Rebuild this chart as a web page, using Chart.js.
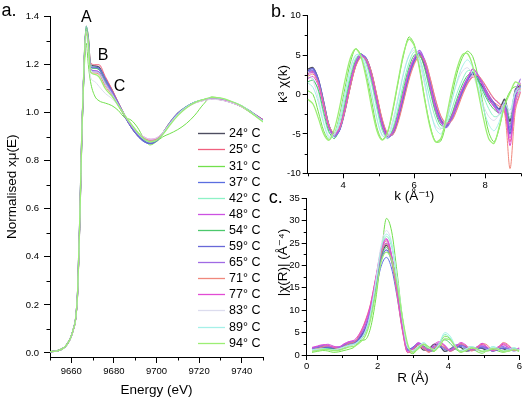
<!DOCTYPE html>
<html>
<head>
<meta charset="utf-8">
<script src="https://cdn.jsdelivr.net/npm/chart.js@4.4.1/dist/chart.umd.min.js"></script>
<style>
  html, body { margin: 0; padding: 0; background: #fff; }
  #wrap { position: relative; width: 524px; height: 400px; overflow: hidden; background: #fff; }
  canvas { position: absolute; }
  #panelA { left: 0; top: 0; }
  #panelB { left: 262px; top: 0; }
  #panelC { left: 262px; top: 190px; }
</style>
</head>
<body>
<div id="wrap">
  <canvas id="panelA" width="272" height="400"></canvas>
  <canvas id="panelB" width="262" height="206"></canvas>
  <canvas id="panelC" width="262" height="210"></canvas>
</div>
<script>
// temperatures of the scans (one line per scan in every panel)
const temps = [24, 25, 31, 37, 42, 48, 54, 59, 65, 71, 77, 83, 89, 94];

// ---- a. XANES, normalised x-mu(E) against energy (eV)
const energy = [9650, 9654, 9657, 9659, 9660, 9661, 9662, 9663, 9664, 9665, 9666, 9667, 9668, 9669, 9671, 9673, 9676, 9679, 9682, 9685, 9688, 9691, 9694, 9697, 9700, 9703, 9706, 9710, 9714, 9718, 9722, 9726, 9730, 9735, 9740, 9745, 9750];
const xanes24 = [0.005, 0.01, 0.025, 0.05, 0.07, 0.1, 0.14, 0.26, 0.56, 0.93, 1.2, 1.36, 1.31, 1.2, 1.195, 1.19, 1.14, 1.095, 1.04, 0.99, 0.945, 0.91, 0.885, 0.875, 0.885, 0.915, 0.955, 0.998, 1.025, 1.043, 1.053, 1.06, 1.057, 1.045, 1.028, 1.0, 0.97];
const xanes25 = [0.005, 0.01, 0.024, 0.048, 0.068, 0.095, 0.135, 0.25, 0.54, 0.92, 1.19, 1.35, 1.31, 1.21, 1.2, 1.2, 1.15, 1.1, 1.045, 0.99, 0.94, 0.905, 0.882, 0.876, 0.888, 0.918, 0.957, 0.998, 1.024, 1.042, 1.052, 1.058, 1.056, 1.044, 1.026, 1.0, 0.972];
const xanes31 = [0.006, 0.012, 0.027, 0.052, 0.072, 0.1, 0.14, 0.26, 0.55, 0.9, 1.16, 1.29, 1.2, 1.13, 1.07, 1.05, 1.04, 1.03, 1.01, 0.98, 0.97, 0.94, 0.895, 0.866, 0.88, 0.9, 0.912, 0.93, 0.955, 0.99, 1.035, 1.066, 1.06, 1.045, 1.024, 0.995, 0.965];
const xanes37 = [0.005, 0.01, 0.025, 0.05, 0.07, 0.1, 0.14, 0.26, 0.56, 0.93, 1.2, 1.35, 1.3, 1.19, 1.185, 1.18, 1.135, 1.09, 1.035, 0.985, 0.94, 0.905, 0.88, 0.872, 0.884, 0.915, 0.955, 0.997, 1.024, 1.043, 1.052, 1.058, 1.055, 1.043, 1.026, 0.998, 0.968];
const xanes42 = [0.005, 0.01, 0.025, 0.05, 0.07, 0.1, 0.14, 0.26, 0.56, 0.93, 1.2, 1.36, 1.31, 1.2, 1.19, 1.185, 1.14, 1.09, 1.04, 0.99, 0.948, 0.912, 0.888, 0.88, 0.89, 0.918, 0.957, 0.998, 1.026, 1.045, 1.055, 1.062, 1.058, 1.046, 1.028, 1.0, 0.962];
const xanes48 = [0.005, 0.01, 0.025, 0.05, 0.07, 0.1, 0.14, 0.26, 0.56, 0.93, 1.2, 1.34, 1.29, 1.18, 1.175, 1.17, 1.12, 1.08, 1.035, 0.99, 0.95, 0.918, 0.895, 0.885, 0.892, 0.915, 0.952, 0.994, 1.022, 1.042, 1.052, 1.058, 1.055, 1.044, 1.026, 0.998, 0.968];
const xanes54 = [0.005, 0.01, 0.025, 0.05, 0.07, 0.1, 0.14, 0.26, 0.56, 0.93, 1.2, 1.35, 1.3, 1.19, 1.185, 1.18, 1.13, 1.085, 1.035, 0.985, 0.942, 0.906, 0.882, 0.873, 0.884, 0.914, 0.954, 0.997, 1.025, 1.044, 1.054, 1.061, 1.058, 1.046, 1.028, 0.999, 0.966];
const xanes59 = [0.005, 0.01, 0.025, 0.05, 0.07, 0.1, 0.14, 0.26, 0.56, 0.93, 1.2, 1.35, 1.3, 1.19, 1.19, 1.185, 1.14, 1.09, 1.04, 0.988, 0.943, 0.907, 0.882, 0.872, 0.883, 0.913, 0.954, 0.997, 1.024, 1.043, 1.053, 1.059, 1.056, 1.044, 1.027, 0.999, 0.969];
const xanes65 = [0.005, 0.01, 0.025, 0.05, 0.07, 0.1, 0.14, 0.26, 0.56, 0.93, 1.2, 1.34, 1.29, 1.18, 1.175, 1.17, 1.125, 1.085, 1.035, 0.988, 0.946, 0.912, 0.89, 0.88, 0.888, 0.915, 0.953, 0.995, 1.023, 1.042, 1.052, 1.058, 1.055, 1.043, 1.026, 0.998, 0.968];
const xanes71 = [0.005, 0.01, 0.025, 0.05, 0.07, 0.1, 0.14, 0.26, 0.56, 0.93, 1.2, 1.33, 1.28, 1.17, 1.165, 1.16, 1.11, 1.075, 1.03, 0.988, 0.95, 0.918, 0.896, 0.886, 0.892, 0.916, 0.952, 0.993, 1.021, 1.041, 1.051, 1.057, 1.054, 1.043, 1.025, 0.997, 0.967];
const xanes77 = [0.005, 0.01, 0.025, 0.05, 0.07, 0.1, 0.14, 0.26, 0.56, 0.93, 1.2, 1.34, 1.29, 1.18, 1.17, 1.165, 1.12, 1.08, 1.035, 0.99, 0.952, 0.92, 0.9, 0.89, 0.895, 0.918, 0.953, 0.994, 1.022, 1.042, 1.052, 1.058, 1.055, 1.044, 1.026, 0.998, 0.968];
const xanes83 = [0.005, 0.01, 0.025, 0.05, 0.07, 0.1, 0.14, 0.26, 0.56, 0.93, 1.2, 1.32, 1.25, 1.15, 1.13, 1.11, 1.08, 1.06, 1.03, 0.992, 0.955, 0.922, 0.9, 0.89, 0.895, 0.918, 0.95, 0.99, 1.02, 1.04, 1.05, 1.056, 1.053, 1.042, 1.025, 0.997, 0.966];
const xanes89 = [0.005, 0.01, 0.025, 0.05, 0.07, 0.1, 0.14, 0.26, 0.56, 0.93, 1.2, 1.34, 1.29, 1.18, 1.17, 1.165, 1.12, 1.08, 1.035, 0.99, 0.95, 0.915, 0.89, 0.878, 0.886, 0.914, 0.952, 0.995, 1.024, 1.044, 1.055, 1.062, 1.06, 1.048, 1.03, 1.0, 0.966];
const xanes94 = [0.005, 0.01, 0.025, 0.05, 0.07, 0.1, 0.14, 0.26, 0.56, 0.93, 1.2, 1.35, 1.29, 1.17, 1.16, 1.15, 1.1, 1.07, 1.03, 0.99, 0.955, 0.92, 0.893, 0.88, 0.886, 0.91, 0.945, 0.988, 1.02, 1.042, 1.055, 1.064, 1.062, 1.048, 1.028, 0.996, 0.962];

// ---- b. k^3 chi(k) against k (1/A)
const kValues = [3.0, 3.15, 3.3, 3.45, 3.6, 3.75, 3.9, 4.05, 4.2, 4.35, 4.5, 4.65, 4.8, 4.95, 5.1, 5.25, 5.4, 5.55, 5.7, 5.85, 6.0, 6.15, 6.3, 6.45, 6.6, 6.75, 6.9, 7.05, 7.2, 7.35, 7.5, 7.65, 7.8, 7.95, 8.1, 8.25, 8.4, 8.55, 8.7, 8.85, 9.0];
const chik24 = [3.2, 3.4, 1.9, -1.0, -4.0, -5.2, -4.4, -1.9, 1.3, 3.9, 5.0, 4.5, 2.5, -0.6, -3.6, -5.3, -4.8, -2.9, -0.2, 2.6, 4.4, 5.0, 3.6, 1.0, -1.7, -3.4, -3.9, -2.8, -1.2, 0.5, 1.9, 2.6, 1.7, 0.9, -0.4, -1.2, -1.8, -0.6, -3.4, 0.6, 1.2];
const chik25 = [2.6, 2.9, 1.6, -1.1, -3.9, -5.0, -4.3, -2.0, 1.0, 3.6, 4.8, 4.5, 2.7, -0.3, -3.3, -5.1, -5.0, -3.2, -0.6, 2.2, 4.0, 4.8, 4.0, 1.6, -1.2, -3.1, -3.8, -3.1, -1.5, 0.2, 1.5, 2.2, 2.0, 1.1, 0.0, -1.0, -1.5, -2.2, -6.0, -1.0, 0.8];
const chik31 = [0.5, 0.0, -2.2, -4.6, -5.7, -5.0, -2.6, 0.8, 4.0, 5.8, 5.0, 2.6, -0.8, -4.2, -5.7, -4.8, -2.0, 1.6, 5.0, 7.3, 6.4, 3.4, -0.6, -4.0, -6.0, -5.9, -3.6, -0.4, 2.6, 4.6, 5.5, 4.8, 2.2, -1.5, -4.8, -6.0, -4.2, -1.2, 0.4, 1.0, 0.6];
const chik37 = [2.9, 3.1, 1.7, -1.2, -4.2, -5.4, -4.5, -1.9, 1.4, 4.0, 5.1, 4.4, 2.3, -0.8, -3.8, -5.4, -4.9, -2.7, 0.1, 2.9, 4.6, 5.2, 3.9, 0.9, -1.9, -3.6, -4.1, -2.9, -1.0, 0.7, 2.1, 2.8, 1.9, 0.6, -0.7, -1.5, -2.1, -1.0, -4.6, 0.2, 0.9];
const chik42 = [2.2, 2.0, 0.4, -2.6, -4.9, -5.3, -3.6, -0.6, 2.5, 4.6, 5.1, 3.8, 1.3, -1.9, -4.6, -5.6, -4.2, -1.6, 1.5, 4.0, 5.4, 4.6, 2.3, -0.6, -3.0, -4.3, -3.9, -2.0, 0.1, 1.8, 3.0, 2.9, 1.6, -0.2, -1.8, -2.8, -2.6, -1.5, -3.0, -0.6, 0.6];
const chik48 = [2.5, 2.8, 1.5, -1.3, -4.0, -5.0, -4.3, -2.0, 1.0, 3.6, 4.8, 4.6, 2.8, -0.2, -3.2, -5.0, -5.1, -3.3, -0.7, 2.0, 4.0, 5.2, 4.4, 2.0, -0.7, -2.8, -3.7, -3.3, -1.8, 0.0, 1.4, 2.4, 2.3, 1.5, 0.4, -0.6, -1.2, -2.0, -5.5, -1.5, 0.4];
const chik54 = [1.6, 1.8, 0.6, -2.2, -4.7, -5.6, -4.3, -1.2, 2.0, 4.3, 5.2, 4.2, 1.8, -1.3, -4.2, -5.5, -4.5, -2.2, 0.8, 3.4, 5.0, 5.1, 3.2, 0.4, -2.3, -3.9, -4.0, -2.6, -0.6, 1.2, 2.4, 2.8, 1.8, 0.3, -1.0, -1.9, -2.3, -1.3, -3.8, 0.0, 1.0];
const chik59 = [3.0, 3.3, 1.9, -0.9, -3.9, -5.2, -4.5, -2.1, 1.1, 3.8, 5.0, 4.6, 2.6, -0.4, -3.5, -5.3, -5.0, -3.0, -0.4, 2.4, 4.3, 5.3, 4.1, 1.4, -1.4, -3.2, -4.0, -3.1, -1.4, 0.3, 1.8, 2.7, 2.2, 1.1, -0.2, -1.1, -1.9, -1.1, -5.0, -0.2, 1.1];
const chik65 = [2.8, 3.0, 1.6, -1.2, -4.1, -5.3, -4.4, -1.8, 1.4, 4.0, 5.1, 4.4, 2.2, -0.9, -3.9, -5.5, -4.8, -2.6, 0.2, 2.8, 4.6, 5.6, 4.2, 1.2, -1.6, -3.5, -4.2, -3.2, -1.2, 0.6, 2.0, 3.2, 2.5, 1.2, -0.2, -1.3, -2.4, -1.6, -4.2, 0.4, 2.0];
const chik71 = [2.3, 2.6, 1.4, -1.2, -3.9, -4.9, -4.3, -2.1, 0.9, 3.5, 4.7, 4.5, 2.8, -0.1, -3.1, -4.9, -5.1, -3.5, -0.9, 1.8, 3.8, 4.9, 4.3, 2.1, -0.6, -2.7, -3.6, -3.4, -2.0, -0.2, 1.3, 2.2, 2.4, 1.6, 0.5, -0.5, -1.1, -2.4, -9.4, -2.0, 0.3];
const chik77 = [2.0, 2.3, 1.1, -1.6, -4.3, -5.2, -4.1, -1.6, 1.5, 4.0, 5.0, 4.2, 2.2, -0.8, -3.8, -5.3, -4.7, -2.6, 0.2, 2.9, 4.6, 5.4, 3.8, 1.0, -1.8, -3.5, -3.9, -2.8, -1.1, 0.7, 2.0, 3.3, 2.4, 1.0, -0.5, -1.6, -2.3, -1.7, -6.5, -0.8, 1.5];
const chik83 = [3.0, 1.8, -0.5, -3.5, -5.3, -5.0, -3.0, 0.2, 3.3, 5.0, 4.8, 3.0, 0.0, -3.2, -5.2, -5.2, -3.2, -0.3, 2.8, 4.9, 5.6, 4.0, 1.1, -2.0, -4.0, -4.4, -3.0, -0.8, 1.4, 2.9, 3.4, 2.5, 0.6, -1.4, -2.8, -3.3, -2.4, -1.0, -2.5, 0.2, 0.6];
const chik89 = [1.5, 0.9, -1.0, -3.7, -5.5, -5.2, -3.1, 0.1, 3.2, 5.0, 5.0, 3.1, 0.2, -3.0, -5.2, -5.5, -3.6, -0.6, 2.6, 4.9, 6.0, 4.6, 1.5, -1.9, -4.3, -5.0, -3.6, -1.0, 1.6, 3.5, 4.4, 3.4, 1.0, -1.8, -3.8, -4.6, -3.4, -1.2, -2.0, 0.4, 0.9];
const chik94 = [-0.6, -1.2, -3.0, -5.0, -5.8, -4.4, -1.6, 1.8, 4.6, 5.8, 4.8, 2.0, -1.6, -4.6, -5.8, -4.8, -1.8, 1.8, 5.2, 7.0, 6.2, 3.2, -0.8, -4.2, -6.0, -5.6, -3.0, 0.4, 3.2, 5.0, 5.2, 3.6, 0.4, -3.0, -5.6, -6.2, -4.0, -1.4, 0.2, 1.6, 1.2];

// ---- c. |chi(R)| against R (A)
const rValues = [0.15, 0.3, 0.45, 0.6, 0.75, 0.9, 1.05, 1.2, 1.35, 1.5, 1.65, 1.8, 1.95, 2.1, 2.25, 2.4, 2.55, 2.7, 2.85, 3.0, 3.15, 3.3, 3.45, 3.6, 3.75, 3.9, 4.05, 4.2, 4.35, 4.5, 4.65, 4.8, 4.95, 5.1, 5.25, 5.4, 5.55, 5.7, 5.85, 6.0];
const ftr24 = [1.4, 1.6, 1.8, 1.7, 1.5, 1.6, 2.2, 2.6, 2.8, 3.9, 5.9, 9.8, 16.0, 22.0, 24.5, 21.5, 14.8, 6.9, 1.3, 1.4, 2.2, 1.1, 1.3, 2.4, 2.1, 0.8, 1.3, 2.0, 1.7, 0.9, 1.1, 1.6, 1.5, 1.0, 1.1, 1.6, 1.4, 1.0, 1.3, 1.4];
const ftr25 = [1.2, 1.5, 1.9, 2.0, 1.6, 1.3, 1.9, 2.8, 3.0, 4.6, 7.2, 11.0, 17.0, 23.0, 25.5, 21.8, 14.2, 5.8, 0.6, 0.8, 1.8, 1.4, 0.6, 1.6, 2.6, 1.9, 0.8, 1.4, 2.3, 1.8, 0.9, 1.5, 2.4, 1.6, 0.8, 1.6, 2.4, 1.7, 1.1, 1.5];
const ftr31 = [0.6, 0.8, 1.0, 0.9, 0.6, 0.7, 1.0, 1.3, 1.8, 3.2, 3.4, 6.0, 12.5, 22.0, 30.5, 27.5, 18.5, 8.5, 1.6, 0.3, 1.6, 2.4, 1.2, 0.8, 2.6, 4.2, 3.6, 1.6, 0.6, 1.2, 1.5, 0.8, 0.4, 1.0, 1.3, 0.9, 0.6, 0.9, 1.1, 0.8];
const ftr37 = [1.5, 1.7, 1.6, 1.5, 1.6, 1.8, 2.0, 2.3, 2.6, 3.6, 5.4, 8.8, 14.5, 19.8, 21.8, 19.2, 13.0, 5.8, 1.0, 1.8, 2.4, 1.5, 0.9, 1.4, 1.8, 1.2, 1.0, 1.6, 1.9, 1.4, 1.0, 1.3, 1.6, 1.2, 0.9, 1.2, 1.5, 1.2, 1.0, 1.2];
const ftr42 = [1.3, 1.4, 1.5, 1.3, 1.2, 1.4, 1.8, 2.2, 2.5, 3.4, 5.0, 8.8, 15.5, 23.0, 26.5, 24.0, 16.5, 8.0, 2.0, 0.9, 1.6, 2.4, 1.5, 1.2, 2.8, 4.6, 3.8, 1.8, 0.8, 1.2, 1.8, 1.5, 0.8, 1.2, 1.8, 1.4, 0.9, 1.4, 1.6, 1.2];
const ftr48 = [1.6, 1.9, 2.2, 2.4, 2.0, 1.7, 2.4, 3.0, 3.2, 4.4, 6.6, 10.6, 16.8, 23.2, 25.8, 22.0, 14.4, 6.2, 0.9, 1.6, 2.8, 2.0, 1.0, 1.8, 2.8, 2.2, 1.0, 1.6, 2.6, 2.0, 1.0, 1.6, 2.2, 1.6, 1.0, 1.8, 2.2, 1.6, 1.2, 1.5];
const ftr54 = [1.0, 1.2, 1.4, 1.5, 1.3, 1.2, 1.6, 2.1, 2.4, 3.2, 5.0, 9.0, 15.5, 21.8, 24.0, 21.4, 15.0, 7.4, 1.6, 1.0, 1.8, 2.0, 1.2, 1.5, 2.6, 3.4, 2.6, 1.3, 1.0, 1.6, 1.8, 1.2, 0.8, 1.2, 1.5, 1.2, 0.8, 1.1, 1.3, 1.1];
const ftr59 = [1.5, 1.7, 1.8, 1.7, 1.6, 1.7, 2.1, 2.5, 2.7, 3.7, 5.6, 9.4, 15.4, 21.2, 23.5, 20.8, 14.2, 6.6, 1.2, 1.6, 2.6, 1.8, 0.8, 1.2, 2.0, 1.6, 0.9, 1.5, 2.2, 1.8, 1.1, 1.2, 1.8, 1.5, 0.9, 1.2, 1.6, 1.4, 0.9, 1.2];
const ftr65 = [1.4, 1.8, 2.1, 2.0, 1.7, 1.6, 2.3, 2.8, 3.0, 4.2, 6.3, 10.2, 16.4, 22.5, 25.0, 21.8, 14.6, 6.6, 1.0, 1.5, 2.6, 1.6, 1.0, 2.0, 2.4, 1.4, 1.2, 2.2, 2.4, 1.5, 1.0, 1.8, 2.0, 1.3, 1.0, 1.7, 1.9, 1.3, 1.0, 1.4];
const ftr71 = [1.1, 1.4, 1.8, 2.1, 1.8, 1.4, 1.9, 2.6, 2.9, 4.8, 7.6, 11.4, 17.2, 22.8, 24.8, 21.0, 13.4, 5.4, 0.5, 1.2, 2.2, 1.6, 0.7, 1.6, 2.2, 1.6, 0.9, 1.6, 2.5, 2.0, 1.0, 1.4, 2.6, 2.2, 1.0, 1.4, 2.8, 2.2, 1.0, 1.2];
const ftr77 = [1.7, 2.0, 2.3, 2.2, 1.8, 1.8, 2.5, 3.0, 3.4, 4.9, 7.4, 11.2, 17.4, 23.6, 26.0, 22.2, 14.0, 5.8, 0.6, 1.4, 2.6, 1.8, 1.2, 2.4, 3.0, 2.0, 1.0, 1.8, 2.8, 2.2, 1.2, 1.8, 2.6, 1.8, 1.0, 1.8, 2.6, 2.0, 1.2, 1.6];
const ftr83 = [1.0, 1.2, 1.3, 1.2, 1.1, 1.3, 1.7, 2.1, 2.4, 3.3, 5.2, 9.4, 16.5, 24.5, 27.8, 25.0, 17.0, 7.8, 1.6, 1.0, 2.0, 2.6, 1.6, 1.2, 2.4, 3.8, 3.2, 1.6, 0.9, 1.4, 1.8, 1.2, 0.7, 1.0, 1.5, 1.2, 0.8, 1.0, 1.3, 1.0];
const ftr89 = [1.2, 1.3, 1.4, 1.3, 1.2, 1.4, 1.8, 2.2, 2.5, 3.4, 5.2, 9.0, 16.0, 23.8, 27.0, 24.8, 17.2, 8.4, 2.0, 0.8, 1.8, 2.8, 1.8, 1.2, 2.8, 5.0, 4.2, 2.0, 0.8, 1.3, 1.9, 1.5, 0.7, 1.2, 1.9, 1.5, 0.8, 1.3, 1.6, 1.1];
const ftr94 = [0.8, 1.0, 1.2, 1.2, 1.0, 1.0, 1.4, 1.8, 2.0, 2.8, 4.2, 7.8, 14.0, 20.8, 23.0, 21.2, 15.8, 8.4, 2.4, 0.6, 1.4, 2.4, 1.8, 1.0, 2.0, 3.6, 3.4, 1.8, 0.7, 1.0, 1.6, 1.4, 0.8, 0.9, 1.4, 1.3, 0.8, 0.9, 1.2, 1.0];

// tick values
const aXTicks = [9660, 9680, 9700, 9720, 9740];
const aYTicks = [0, 0.2, 0.4, 0.6, 0.8, 1.0, 1.2, 1.4];
const bXTicks = [4, 6, 8];
const bYTicks = [-10, -5, 0, 5, 10];
const cXTicks = [0, 2, 4, 6];
const cYTicks = [0, 5, 10, 15, 20, 25, 30, 35];

// line styles, same order as temps
const lineColors = ['#4e4e60', '#f0607e', '#72e04c', '#5a6ee0', '#8ef2c6', '#cc52e2', '#4cc86c', '#6868d8', '#a06ae4', '#f0887c', '#e24cd4', '#dcdcee', '#a6f0e8', '#9cee74'];
const lineWidths = [1.4, 1, 1, 1, 1, 1, 1, 1.3, 1.2, 1, 1, 1, 1, 1.3];

Chart.defaults.font.family = "'Liberation Sans', Arial, 'DejaVu Sans', sans-serif";
Chart.defaults.color = '#000';

function buildDatasets(xs, seriesList, tension, mono) {
    return seriesList.map(function(ys, i) {
        return {
            label: temps[i] + '° C',
            data: xs.map(function(x, j) { return { x: x, y: ys[j] }; }),
            borderColor: lineColors[i],
            borderWidth: lineWidths[i],
            pointRadius: 0,
            fill: false,
            tension: tension,
            cubicInterpolationMode: mono ? 'monotone' : 'default',
            order: seriesList.length - 1 - i
        };
    });
}

function axis(cfg) {
    return {
        type: 'linear',
        min: cfg.min,
        max: cfg.max,
        afterBuildTicks: function(s) { s.ticks = cfg.ticks.map(function(v) { return { value: v }; }); },
        afterFit: function(s) {
            if (cfg.width) s.width = cfg.width;
            if (cfg.height) s.height = cfg.height;
        },
        grid: { drawOnChartArea: false, drawTicks: true, tickLength: cfg.tickLen, color: '#000', tickColor: '#000', lineWidth: 1 },
        border: { display: true, color: '#000', width: 1 },
        ticks: {
            color: '#000',
            font: { size: 9.5 },
            padding: cfg.pad,
            autoSkip: false,
            maxRotation: 0,
            callback: cfg.fmt || function(v) { return String(v); }
        },
        title: cfg.title
            ? { display: true, text: cfg.title, color: '#000', font: { size: 13.5 }, padding: cfg.titlePad }
            : { display: false }
    };
}

// short minor ticks between the labelled ones
function minorTicks(xStep, yStep, len) {
    return {
        id: 'minorTicks',
        afterDraw: function(chart) {
            const ctx = chart.ctx, area = chart.chartArea;
            const xs = chart.scales.x, ys = chart.scales.y;
            const xMajor = xs.ticks.map(function(t) { return t.value; });
            const yMajor = ys.ticks.map(function(t) { return t.value; });
            ctx.save();
            ctx.strokeStyle = '#000';
            ctx.lineWidth = 1;
            ctx.beginPath();
            for (let i = Math.ceil(xs.min / xStep - 1e-6); i * xStep <= xs.max + 1e-6; i++) {
                const v = i * xStep;
                if (xMajor.some(function(m) { return Math.abs(m - v) < xStep / 100; })) continue;
                const px = Math.round(xs.getPixelForValue(v)) + 0.5;
                ctx.moveTo(px, area.bottom);
                ctx.lineTo(px, area.bottom + len);
            }
            for (let i = Math.ceil(ys.min / yStep - 1e-6); i * yStep <= ys.max + 1e-6; i++) {
                const v = i * yStep;
                if (yMajor.some(function(m) { return Math.abs(m - v) < yStep / 100; })) continue;
                const py = Math.round(ys.getPixelForValue(v)) + 0.5;
                ctx.moveTo(area.left, py);
                ctx.lineTo(area.left - len, py);
            }
            ctx.stroke();
            ctx.restore();
        }
    };
}

// panel letters, peak labels and rotated axis titles
function textLayer(items) {
    return {
        id: 'textLayer',
        afterDraw: function(chart) {
            const ctx = chart.ctx;
            items.forEach(function(t) {
                let x = t.x, y = t.y;
                if (t.xv !== undefined) {
                    x = chart.scales.x.getPixelForValue(t.xv);
                    y = chart.scales.y.getPixelForValue(t.yv);
                }
                ctx.save();
                ctx.font = t.font;
                ctx.fillStyle = '#000';
                ctx.textAlign = t.align || 'center';
                ctx.textBaseline = t.baseline || 'middle';
                ctx.translate(x, y);
                if (t.rotate) ctx.rotate(t.rotate);
                ctx.fillText(t.text, 0, 0);
                ctx.restore();
            });
        }
    };
}

const FONT = "'Liberation Sans', Arial, 'DejaVu Sans', sans-serif";

// legend drawn inside panel a, bottom right
const tempLegend = {
    id: 'tempLegend',
    afterDraw: function(chart) {
        const ctx = chart.ctx;
        chart.data.datasets.forEach(function(ds, i) {
            const y = Math.round(133.3 + i * 16.1) + 0.5;
            ctx.save();
            ctx.strokeStyle = ds.borderColor;
            ctx.lineWidth = Math.max(ds.borderWidth, 1.3);
            ctx.beginPath();
            ctx.moveTo(198, y);
            ctx.lineTo(225, y);
            ctx.stroke();
            ctx.fillStyle = '#000';
            ctx.font = '12.5px ' + FONT;
            ctx.textAlign = 'left';
            ctx.textBaseline = 'middle';
            ctx.fillText(ds.label, 229, y + 0.5);
            ctx.restore();
        });
    }
};

function baseOptions(padding, xAxis, yAxis) {
    return {
        responsive: false,
        animation: false,
        devicePixelRatio: 1,
        layout: { padding: padding },
        plugins: { legend: { display: false }, tooltip: { enabled: false } },
        scales: { x: xAxis, y: yAxis }
    };
}

// a. XANES
new Chart(document.getElementById('panelA').getContext('2d'), {
    type: 'line',
    data: {
        datasets: buildDatasets(energy, [xanes24, xanes25, xanes31, xanes37, xanes42, xanes48, xanes54, xanes59, xanes65, xanes71, xanes77, xanes83, xanes89, xanes94], 0.4, true)
    },
    options: baseOptions(
        { left: 0, top: 16.7, right: 9, bottom: 0 },
        axis({ min: 9650, max: 9750, ticks: aXTicks, height: 43, tickLen: 6, pad: 3, title: 'Energy (eV)', titlePad: { top: 0, bottom: 2 } }),
        axis({ min: -0.017, max: 1.4, ticks: aYTicks, width: 50, tickLen: 6, pad: 5, fmt: function(v) { return v.toFixed(1); }, title: 'Normalised xμ(E)', titlePad: { top: 4, bottom: 0 } })
    ),
    plugins: [
        minorTicks(10, 0.1, 3.5),
        tempLegend,
        textLayer([
            { text: 'a.', x: 1.5, y: 15.5, font: '18px ' + FONT, align: 'left', baseline: 'alphabetic' },
            { text: 'A', xv: 9667.1, yv: 1.395, font: '16px ' + FONT },
            { text: 'B', xv: 9674.9, yv: 1.237, font: '16px ' + FONT },
            { text: 'C', xv: 9682.7, yv: 1.11, font: '16px ' + FONT }
        ])
    ]
});

// b. k-space EXAFS
new Chart(document.getElementById('panelB').getContext('2d'), {
    type: 'line',
    data: {
        datasets: buildDatasets(kValues, [chik24, chik25, chik31, chik37, chik42, chik48, chik54, chik59, chik65, chik71, chik77, chik83, chik89, chik94], 0.3, false)
    },
    options: baseOptions(
        { left: 0, top: 15.7, right: 3.3, bottom: 0 },
        axis({ min: 3, max: 9, ticks: bXTicks, height: 32.7, tickLen: 5, pad: 1, title: 'k (Å⁻¹)', titlePad: { top: 0, bottom: 1.4 } }),
        axis({ min: -10, max: 10, ticks: bYTicks, width: 45.7, tickLen: 5, pad: 2 })
    ),
    plugins: [
        minorTicks(1, 2.5, 3),
        textLayer([
            { text: 'b.', x: 9, y: 16.7, font: '18px ' + FONT, align: 'left', baseline: 'alphabetic' },
            { text: 'k³ χ(k)', x: 21.5, y: 84, font: '13.5px ' + FONT, rotate: -Math.PI / 2 }
        ])
    ]
});

// c. Fourier transform magnitude
new Chart(document.getElementById('panelC').getContext('2d'), {
    type: 'line',
    data: {
        datasets: buildDatasets(rValues, [ftr24, ftr25, ftr31, ftr37, ftr42, ftr48, ftr54, ftr59, ftr65, ftr71, ftr77, ftr83, ftr89, ftr94], 0.4, true)
    },
    options: baseOptions(
        { left: 0, top: 8.3, right: 4.7, bottom: 0 },
        axis({ min: 0, max: 6, ticks: cXTicks, height: 45, tickLen: 5, pad: 1, title: 'R (Å)', titlePad: { top: 0, bottom: 14 } }),
        axis({ min: 0, max: 35, ticks: cYTicks, width: 44.7, tickLen: 5, pad: 2 })
    ),
    plugins: [
        minorTicks(1, 2.5, 3),
        textLayer([
            { text: 'c.', x: 6.7, y: 13.3, font: '18px ' + FONT, align: 'left', baseline: 'alphabetic' },
            { text: '|χ(R)| (Å⁻⁴)', x: 21.5, y: 72.5, font: '13.5px ' + FONT, rotate: -Math.PI / 2 }
        ])
    ]
});
</script>
</body>
</html>
